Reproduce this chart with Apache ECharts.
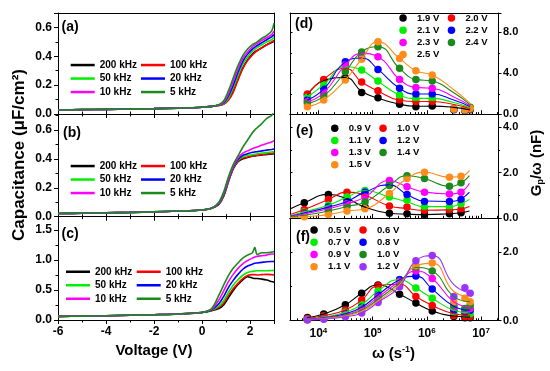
<!DOCTYPE html>
<html><head><meta charset="utf-8">
<script src="https://cdn.jsdelivr.net/npm/echarts@6/dist/echarts.min.js"></script>
<style>html,body{margin:0;padding:0;background:#fff}#c{width:550px;height:371px}</style>
</head><body><div id="c"></div><script>
// ---------- DATA ----------
const voltage = [-6,-5,-4,-3,-2,-1,0,0.4,0.7,0.9,1.1,1.3,1.5,1.7,1.9,2.1,2.2,2.3,2.5,2.7,2.9,3.0];
const freqNames = ['200 kHz','100 kHz','50 kHz','20 kHz','10 kHz','5 kHz'];
// panel (a): rows 200k,100k,50k,20k,10k,5k
const capA = [
 [0.028,0.030,0.032,0.034,0.037,0.041,0.047,0.053,0.060,0.068,0.100,0.160,0.245,0.320,0.375,0.415,0.430,0.440,0.460,0.480,0.495,0.505],
 [0.028,0.030,0.032,0.034,0.037,0.041,0.047,0.053,0.060,0.067,0.095,0.150,0.235,0.315,0.370,0.410,0.425,0.440,0.460,0.480,0.500,0.510],
 [0.028,0.030,0.032,0.034,0.037,0.041,0.047,0.053,0.061,0.070,0.110,0.180,0.265,0.345,0.395,0.435,0.448,0.460,0.480,0.500,0.515,0.530],
 [0.028,0.030,0.032,0.034,0.037,0.041,0.047,0.053,0.062,0.075,0.125,0.200,0.290,0.365,0.415,0.450,0.463,0.475,0.495,0.515,0.535,0.550],
 [0.028,0.030,0.032,0.034,0.037,0.041,0.047,0.053,0.063,0.080,0.140,0.225,0.310,0.385,0.430,0.465,0.478,0.490,0.510,0.530,0.550,0.575],
 [0.028,0.030,0.032,0.034,0.037,0.041,0.047,0.053,0.065,0.090,0.160,0.250,0.335,0.405,0.450,0.480,0.490,0.500,0.525,0.545,0.575,0.630]
];
const capB = [
 [0.022,0.024,0.027,0.030,0.034,0.039,0.046,0.058,0.085,0.140,0.240,0.330,0.380,0.400,0.410,0.418,0.420,0.423,0.427,0.431,0.434,0.436],
 [0.022,0.024,0.027,0.030,0.034,0.039,0.046,0.058,0.087,0.145,0.245,0.335,0.385,0.405,0.412,0.420,0.423,0.425,0.430,0.434,0.437,0.440],
 [0.022,0.024,0.027,0.030,0.034,0.039,0.046,0.058,0.090,0.150,0.250,0.340,0.390,0.415,0.423,0.430,0.432,0.435,0.440,0.443,0.447,0.450],
 [0.022,0.024,0.027,0.030,0.034,0.039,0.046,0.058,0.092,0.155,0.255,0.345,0.395,0.425,0.435,0.445,0.448,0.450,0.455,0.460,0.465,0.468],
 [0.022,0.024,0.027,0.030,0.034,0.039,0.046,0.058,0.095,0.160,0.260,0.350,0.405,0.440,0.455,0.470,0.476,0.482,0.495,0.506,0.517,0.525],
 [0.022,0.024,0.027,0.030,0.034,0.039,0.046,0.058,0.100,0.170,0.275,0.360,0.420,0.480,0.530,0.580,0.600,0.615,0.645,0.680,0.700,0.730]
];
const capC = [
 [0.060,0.065,0.070,0.078,0.088,0.100,0.125,0.155,0.190,0.250,0.370,0.490,0.590,0.670,0.720,0.700,0.690,0.690,0.680,0.665,0.640,0.630],
 [0.060,0.065,0.070,0.078,0.088,0.100,0.125,0.160,0.210,0.280,0.410,0.520,0.610,0.690,0.740,0.755,0.755,0.750,0.755,0.760,0.755,0.750],
 [0.060,0.065,0.070,0.078,0.088,0.100,0.125,0.165,0.230,0.320,0.460,0.580,0.670,0.745,0.790,0.810,0.815,0.820,0.820,0.820,0.825,0.825],
 [0.060,0.065,0.070,0.078,0.088,0.100,0.125,0.170,0.270,0.390,0.540,0.660,0.760,0.845,0.900,0.930,0.945,0.950,0.960,0.970,0.975,0.975],
 [0.060,0.065,0.070,0.078,0.088,0.100,0.125,0.180,0.330,0.480,0.640,0.760,0.860,0.935,0.990,1.030,1.050,1.060,1.070,1.080,1.100,1.100],
 [0.060,0.065,0.070,0.078,0.088,0.100,0.125,0.190,0.410,0.580,0.740,0.860,0.950,1.030,1.080,1.120,1.210,1.090,1.120,1.120,1.130,1.140]
];

const omegaDF = [6283,12566,31416,62832,125664,314159,628319,1256637,3141593,5026548,6283185];
const fitOmegaDF = [6283,12566,31416,62832,125664,314159,628319,1256637,3141593,6283185];
const voltsD = ['1.9 V','2.0 V','2.1 V','2.2 V','2.3 V','2.4 V','2.5 V'];
const gpD = [
 [1.90,3.30,3.57,2.14,1.62,0.98,0.74,0.81,0.45,0.35,0.45],
 [1.98,3.41,4.45,3.15,2.30,1.40,1.25,1.25,0.50,0.40,0.50],
 [1.66,2.86,4.60,4.32,3.25,1.88,1.56,1.56,0.50,0.40,0.55],
 [1.40,2.47,5.13,5.50,4.39,2.54,1.98,1.98,0.50,0.45,0.60],
 [1.23,2.10,4.81,5.90,5.62,3.41,2.63,2.54,0.55,0.45,0.65],
 [1.07,1.78,4.16,6.10,6.60,4.49,3.41,3.25,0.55,0.50,0.70],
 [0.74,1.40,3.35,5.37,7.08,5.46,4.25,3.83,0.52,0.45,0.60]
];
const gpDfit = [
 [1.90,3.30,3.60,2.25,1.58,0.98,0.78,0.80,0.68,0.42],
 [1.98,3.45,4.50,3.15,2.28,1.38,1.25,1.25,0.95,0.55],
 [1.66,2.90,4.65,4.30,3.22,1.88,1.56,1.56,1.15,0.65],
 [1.40,2.47,5.10,5.50,4.39,2.54,1.98,1.98,1.40,0.75],
 [1.23,2.10,4.80,5.95,5.62,3.41,2.63,2.54,1.70,0.85],
 [1.07,1.78,4.16,6.10,6.60,4.49,3.41,3.25,2.10,0.95],
 [0.74,1.40,3.35,5.40,7.08,5.46,4.25,3.83,2.40,1.07]
];
const omegaE = [5500,15300,33700,72400,204000,431000,904000,2610000,4270000];
const fitOmegaE = [3000,5500,15300,33700,72400,204000,431000,904000,2610000,4270000,6100000];
const voltsE = ['0.9 V','1.0 V','1.1 V','1.2 V','1.3 V','1.4 V','1.5 V'];
const gpE = [
 [0.67,1.04,0.85,0.48,0.21,0.19,0.15,0.19,0.23],
 [0.37,0.82,1.14,1.00,0.53,0.48,0.34,0.34,0.38],
 [0.27,0.56,0.92,1.21,0.92,0.79,0.48,0.48,0.63],
 [0.22,0.48,0.73,1.14,1.46,1.04,0.73,0.73,0.82],
 [0.18,0.41,0.63,0.92,1.65,1.38,1.14,1.06,1.14],
 [0.12,0.31,0.51,0.70,1.43,1.86,1.74,1.40,1.55],
 [0.05,0.15,0.31,0.41,1.08,1.74,2.02,1.80,1.84]
];
const gpEfit = [
 [0.40,0.67,1.04,0.85,0.48,0.21,0.17,0.15,0.19,0.23,0.31],
 [0.15,0.37,0.82,1.14,1.00,0.53,0.42,0.34,0.36,0.40,0.51],
 [0.10,0.27,0.56,0.92,1.21,0.92,0.72,0.50,0.50,0.63,0.82],
 [0.08,0.22,0.48,0.73,1.14,1.46,1.04,0.75,0.73,0.85,1.14],
 [0.06,0.18,0.41,0.63,0.92,1.65,1.38,1.14,1.06,1.16,1.53],
 [0.04,0.12,0.31,0.51,0.70,1.43,1.86,1.74,1.40,1.55,1.87],
 [0.02,0.05,0.15,0.31,0.41,1.08,1.74,2.02,1.80,1.84,2.09]
];
const voltsF = ['0.5 V','0.6 V','0.7 V','0.8 V','0.9 V','1.0 V','1.1 V','1.2 V'];
const gpF = [
 [0.09,0.19,0.46,0.80,1.04,0.77,0.51,0.28,0.12,0.08,0.08],
 [0.06,0.14,0.31,0.60,1.02,1.06,0.70,0.44,0.15,0.12,0.12],
 [0.04,0.10,0.24,0.46,0.86,1.20,0.95,0.65,0.25,0.20,0.20],
 [0.03,0.08,0.20,0.39,0.75,1.19,1.30,0.92,0.30,0.25,0.30],
 [0.03,0.07,0.17,0.34,0.68,1.15,1.45,1.23,0.38,0.30,0.35],
 [0.02,0.06,0.15,0.30,0.62,1.10,1.55,1.45,0.45,0.35,0.45],
 [0.02,0.05,0.13,0.27,0.57,1.05,1.60,1.68,0.55,0.65,0.55],
 [0.02,0.04,0.11,0.22,0.53,0.99,1.75,1.90,0.70,0.96,0.80]
];
const gpFfit = [
 [0.09,0.19,0.46,0.80,1.04,0.77,0.51,0.28,0.13,0.10],
 [0.06,0.14,0.31,0.60,1.02,1.06,0.70,0.44,0.20,0.15],
 [0.04,0.10,0.24,0.46,0.86,1.20,0.95,0.65,0.30,0.22],
 [0.03,0.08,0.20,0.39,0.75,1.19,1.30,0.92,0.42,0.30],
 [0.03,0.07,0.17,0.34,0.68,1.15,1.45,1.23,0.55,0.40],
 [0.02,0.06,0.15,0.30,0.62,1.10,1.55,1.45,0.70,0.55],
 [0.02,0.05,0.13,0.27,0.57,1.05,1.60,1.68,0.85,0.70],
 [0.02,0.04,0.11,0.22,0.53,0.99,1.75,1.90,1.05,0.80]
];
const omegaTicks = [1e4,1e5,1e6,1e7];

// ---------- STYLE ----------
const FONT = '"Liberation Sans", Arial, sans-serif';
const colors = ['#000000','#ff0000','#00ee00','#0000ff','#ff00ff','#1a8a1a','#ff8c1a','#9933ff'];
const leftColors = ['#000000','#ff0000','#00ee00','#0000ff','#ff00ff','#1a8a1a'];
const ls = {color:'#000', width:1};
const minorLog = [];
for (let e = 3; e <= 7; e++) for (let m = 2; m <= 9; m++) { const v = m * Math.pow(10, e); if (v > 3000 && v < 2.05e7) minorLog.push(v); }

const grids = [
 {left:58, top:13, width:216, height:101},
 {left:58, top:114, width:216, height:102.7},
 {left:58, top:216.7, width:216, height:103.3},
 {left:290, top:13, width:208, height:101.3},
 {left:290, top:114.3, width:208, height:103.7},
 {left:290, top:218, width:208, height:102.5}
].map(g => Object.assign({containLabel:false, outerBoundsMode:'none'}, g));

const xAxis = [], yAxis = [], series = [], legend = [];
const lblStyle = {color:'#000', fontWeight:'bold', fontFamily:FONT, showMaxLabel:false};
const xIdx = [], yIdx = [];
const leftMax = [0.7, 0.71, 1.72], leftInt = [0.2, 0.2, 0.5];
for (let i = 0; i < 3; i++) {
  xIdx.push(xAxis.length);
  xAxis.push({type:'value', gridIndex:i, position:'bottom', min:-6, max:3, interval:2,
    axisLine:{show:true, onZero:false, lineStyle:ls}, splitLine:{show:false},
    axisTick:{show:true, inside:i<2, length:4, lineStyle:ls},
    minorTick:{show:true, splitNumber:2, length:2.5, lineStyle:ls}, minorSplitLine:{show:false},
    axisLabel:Object.assign({show:i===2, fontSize:12, margin:6, formatter:v=>String(v)}, lblStyle)});
  xAxis.push({type:'value', gridIndex:i, position:'top', min:-6, max:3, interval:2,
    axisLine:{show:true, onZero:false, lineStyle:ls}, splitLine:{show:false},
    axisTick:{show:i>0, inside:true, length:4, lineStyle:ls},
    minorTick:{show:i>0, splitNumber:2, length:2.5, lineStyle:ls}, axisLabel:{show:false}});
  yIdx.push(yAxis.length);
  yAxis.push({type:'value', gridIndex:i, position:'left', min:0, max:leftMax[i], interval:leftInt[i],
    axisLine:{show:true, onZero:false, lineStyle:ls}, splitLine:{show:false},
    axisTick:{show:true, inside:false, length:4, lineStyle:ls},
    minorTick:{show:true, splitNumber:2, length:2.5, lineStyle:ls},
    axisLabel:Object.assign({fontSize:12, margin:6, formatter:v=>v.toFixed(1)}, lblStyle)});
  yAxis.push({type:'value', gridIndex:i, position:'right', min:0, max:leftMax[i], interval:leftInt[i],
    axisLine:{show:true, onZero:false, lineStyle:ls}, splitLine:{show:false}, axisTick:{show:false}, axisLabel:{show:false}});
}
const rightMax = [9.9, 4.57, 3.0], rightInt = [4, 2, 2];
const logLabel = v => '{n|10}{s|' + Math.round(Math.log10(v)) + '}';
for (let j = 0; j < 3; j++) {
  const g = 3 + j;
  xIdx.push(xAxis.length);
  xAxis.push({type:'log', logBase:10, gridIndex:g, position:'bottom', min:3000, max:2.05e7,
    axisLine:{show:true, onZero:false, lineStyle:ls}, splitLine:{show:false},
    axisTick:{show:true, inside:true, length:4, lineStyle:ls, customValues:omegaTicks},
    axisLabel:{show:j===2, margin:6, customValues:omegaTicks, formatter:logLabel,
      rich:{n:{fontSize:12, fontWeight:'bold', fontFamily:FONT, color:'#000'},
            s:{fontSize:8, fontWeight:'bold', fontFamily:FONT, color:'#000', padding:[0,0,7,0]}}}});
  xAxis.push({type:'log', logBase:10, gridIndex:g, position:'bottom', min:3000, max:2.05e7,
    axisLine:{show:false}, splitLine:{show:false},
    axisTick:{show:true, inside:true, length:2.2, lineStyle:ls, customValues:minorLog},
    axisLabel:{show:false}});
  xAxis.push({type:'log', logBase:10, gridIndex:g, position:'top', min:3000, max:2.05e7,
    axisLine:{show:true, onZero:false, lineStyle:ls}, splitLine:{show:false}, axisTick:{show:false}, axisLabel:{show:false}});
  yIdx.push(yAxis.length);
  yAxis.push({type:'value', gridIndex:g, position:'left', min:0, max:rightMax[j], interval:rightInt[j],
    axisLine:{show:true, onZero:false, lineStyle:ls}, splitLine:{show:false},
    axisTick:{show:true, inside:true, length:2.5, lineStyle:ls},
    minorTick:{show:true, splitNumber:2, length:2, lineStyle:ls}, axisLabel:{show:false}});
  yAxis.push({type:'value', gridIndex:g, position:'right', min:0, max:rightMax[j], interval:rightInt[j],
    axisLine:{show:true, onZero:false, lineStyle:ls}, splitLine:{show:false},
    axisTick:{show:true, inside:false, length:3.5, lineStyle:ls},
    minorTick:{show:true, splitNumber:2, length:2, lineStyle:ls},
    axisLabel:Object.assign({fontSize:11, margin:5, formatter:v=>v.toFixed(1)}, lblStyle)});
}

// left series
const capPanels = [capA, capB, capC], pfx = ['a','b','c'];
capPanels.forEach((rows, i) => {
  rows.forEach((row, k) => {
    series.push({type:'line', name:pfx[i]+':'+freqNames[k], xAxisIndex:xIdx[i], yAxisIndex:yIdx[i],
      data:voltage.map((v, n) => [v, row[n]]), smooth:0.3, symbol:'none', showSymbol:false,
      color:leftColors[k], lineStyle:{color:leftColors[k], width:1.6}, animation:false, clip:true});
  });
});
const legText = (fs, lh) => ({fontSize:fs, fontWeight:'bold', fontFamily:FONT, color:'#000', lineHeight:lh});
const leftLeg = [[70.7,141,58.3],[70.7,141,159.3],[66,136.7,265]];
leftLeg.forEach((p, i) => {
  [[0,2,4],[1,3,5]].forEach((ids, c) => {
    legend.push({orient:'vertical', left:p[c], top:p[2], padding:0, itemGap:0, itemWidth:24, itemHeight:2.5,
      icon:'rect', selectedMode:false, data:ids.map(k => pfx[i]+':'+freqNames[k]),
      formatter:n => n.slice(2), textStyle:legText(10, 13.5)});
  });
});

// right series
const rp = [
  {p:'d', names:voltsD, pts:gpD, ptsX:omegaDF, fit:gpDfit, fitX:fitOmegaDF},
  {p:'e', names:voltsE, pts:gpE, ptsX:omegaE, fit:gpEfit, fitX:fitOmegaE},
  {p:'f', names:voltsF, pts:gpF, ptsX:omegaDF, fit:gpFfit, fitX:fitOmegaDF}
];
rp.forEach((P, j) => {
  const xi = xIdx[3+j], yi = yIdx[3+j];
  P.fit.forEach((row, k) => {
    series.push({type:'line', name:P.p+':'+P.names[k]+' fit', xAxisIndex:xi, yAxisIndex:yi,
      data:P.fitX.map((w, n) => [w, row[n]]), smooth:0.5, symbol:'none', showSymbol:false,
      color:colors[k], lineStyle:{color:colors[k], width:1.1}, animation:false, clip:true});
  });
  P.pts.forEach((row, k) => {
    series.push({type:'scatter', name:P.p+':'+P.names[k], xAxisIndex:xi, yAxisIndex:yi,
      data:P.ptsX.map((w, n) => [w, row[n]]), symbol:'circle', symbolSize:7.5,
      color:colors[k], itemStyle:{color:colors[k], opacity:1}, animation:false});
  });
});
const rightLeg = [[399.3,447.7,11.9],[331,379.3,122.1],[310.3,359.3,224]];
rp.forEach((P, j) => {
  const n = P.names.length;
  const c1 = [], c2 = [];
  for (let k = 0; k < n; k++) (k % 2 ? c2 : c1).push(P.p + ':' + P.names[k]);
  [c1, c2].forEach((ids, c) => {
    legend.push({orient:'vertical', left:rightLeg[j][c], top:rightLeg[j][2], padding:0, itemGap:0,
      itemWidth:18, itemHeight:7.5, icon:'circle', selectedMode:false, data:ids,
      formatter:nm => nm.slice(2), textStyle:legText(9.5, 12.2)});
  });
});

const tx = (text, x, y, size, extra) => Object.assign({type:'text', x:x, y:y, silent:true,
  style:{text:text, fontSize:size, fontWeight:'bold', fontFamily:FONT, fill:'#000', align:'left', verticalAlign:'middle'}}, extra || {});
const graphic = [
  tx('(a)', 61.5, 27, 14), tx('(b)', 63, 133, 14), tx('(c)', 61.5, 234, 14),
  tx('(d)', 295, 24, 14), tx('(e)', 296, 131, 14), tx('(f)', 296, 237, 14),
  {type:'text', x:19, y:155, rotation:Math.PI/2, silent:true,
   style:{text:'Capacitance (\u03bcF/cm\u00b2)', fontSize:17, fontWeight:'bold', fontFamily:FONT, fill:'#000', align:'center', verticalAlign:'middle'}},
  {type:'text', x:154, y:351, silent:true,
   style:{text:'Voltage (V)', fontSize:15, fontWeight:'bold', fontFamily:FONT, fill:'#000', align:'center', verticalAlign:'middle'}},
  {type:'text', x:537, y:163, rotation:Math.PI/2, silent:true,
   style:{text:'{n|G}{sub|p}{n|/\u03c9 (nF)}', align:'center', verticalAlign:'middle',
     rich:{n:{fontSize:15, fontWeight:'bold', fontFamily:FONT, fill:'#000', color:'#000'},
           sub:{fontSize:9, fontWeight:'bold', fontFamily:FONT, fill:'#000', color:'#000', padding:[7,0,0,0]}}}},
  {type:'text', x:393.5, y:354, silent:true,
   style:{text:'{n|\u03c9 (s}{sup|-1}{n|)}', align:'center', verticalAlign:'middle',
     rich:{n:{fontSize:15, fontWeight:'bold', fontFamily:FONT, fill:'#000', color:'#000'},
           sup:{fontSize:9, fontWeight:'bold', fontFamily:FONT, fill:'#000', color:'#000', padding:[0,0,8,0]}}}}
];

const chart = echarts.init(document.getElementById('c'), null, {renderer:'canvas'});
chart.setOption({animation:false, backgroundColor:'#fff', grid:grids, xAxis:xAxis, yAxis:yAxis,
  series:series, legend:legend, graphic:graphic});
</script></body></html>
